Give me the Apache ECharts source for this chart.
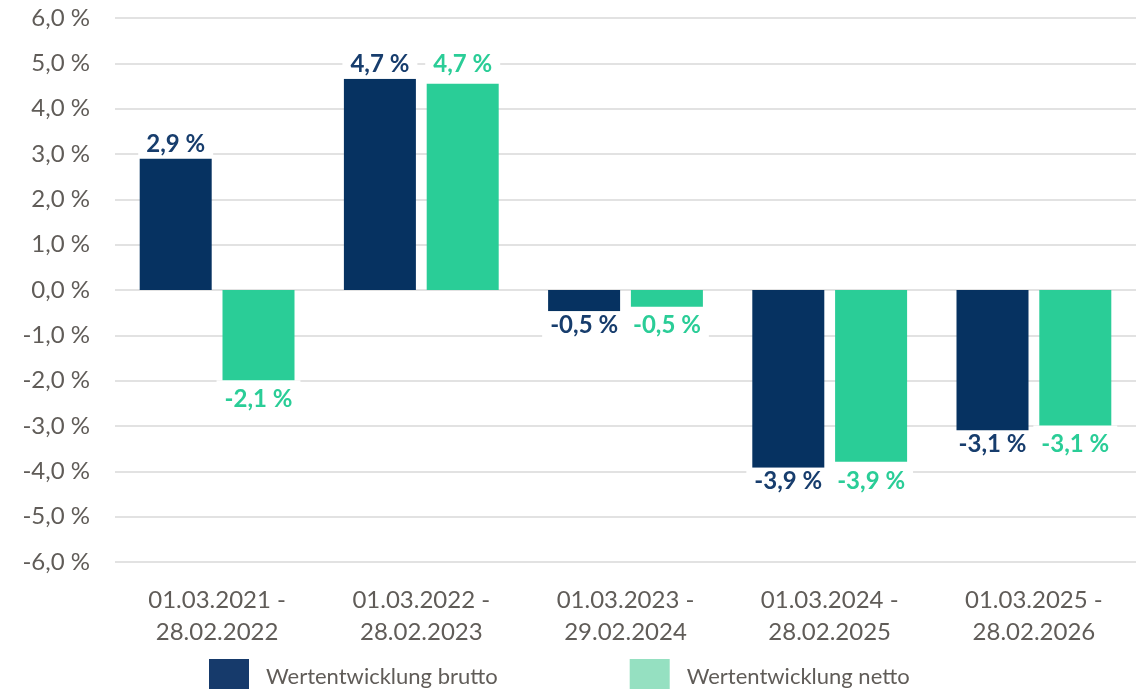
<!DOCTYPE html>
<html lang="de" style="height: 100%">
<head>
  <meta charset="utf-8">
</head>
<body style="height: 100%; margin: 0; background: #fff">
  <div id="container" style="width: 1146px; height: 689px"></div>

  <script type="text/javascript" src="https://cdn.jsdelivr.net/npm/echarts@6/dist/echarts.min.js"></script>

  <script type="text/javascript">
    // Daten
    var categories = [
      '01.03.2021 -\n28.02.2022',
      '01.03.2022 -\n28.02.2023',
      '01.03.2023 -\n29.02.2024',
      '01.03.2024 -\n28.02.2025',
      '01.03.2025 -\n28.02.2026'
    ];
    var brutto = [2.9, 4.66, -0.47, -3.92, -3.1];
    var netto = [-2.1, 4.66, -0.48, -3.9, -3.1];

    var colBrutto = '#063261';
    var colNetto = '#2acd97';
    var gray = '#605c58';
    var font = 'Lato';

    function pct(v) {
      return v.toFixed(1).replace('.', ',') + ' %';
    }

    // Label je Balken: positive oben, negative unten, weisser Kasten
    function items(values, overlap) {
      return values.map(function (v) {
        var inner = overlap ? 9 : 4;
        return {
          value: v,
          label: {
            position: v >= 0 ? 'top' : 'bottom',
            distance: overlap ? -5 : 0,
            padding: v >= 0 ? [2, 8, inner, 8] : [inner, 8, 2, 8]
          }
        };
      });
    }

    var dom = document.getElementById('container');
    var myChart = echarts.init(dom, null, { renderer: 'canvas' });

    var labelBase = {
      show: true,
      formatter: function (p) { return pct(p.value); },
      fontFamily: font,
      fontWeight: 'bold',
      fontSize: 24,
      lineHeight: 20,
      backgroundColor: '#fff'
    };

    var option = {
      animation: false,
      backgroundColor: '#fff',
      grid: { left: 115, right: 10, top: 18, bottom: 127 },
      legend: {
        left: 204,
        top: 654,
        icon: 'rect',
        itemWidth: 40,
        itemHeight: 36,
        itemGap: 132,
        textStyle: { color: gray, fontFamily: font, fontSize: 22, padding: [0, 0, 0, 12] },
        data: [
          { name: 'Wertentwicklung brutto', itemStyle: { color: '#163a6b' } },
          { name: 'Wertentwicklung netto', itemStyle: { color: '#95e0c1' } }
        ]
      },
      xAxis: {
        type: 'category',
        data: categories,
        axisLine: { show: false, onZero: false },
        axisTick: { show: false },
        axisLabel: {
          color: gray,
          fontFamily: font,
          fontSize: 24,
          lineHeight: 32,
          margin: 22
        }
      },
      yAxis: {
        type: 'value',
        min: -6,
        max: 6,
        interval: 1,
        axisLine: { show: false },
        axisTick: { show: false },
        splitLine: { lineStyle: { color: '#d9d9d9', width: 1.5 } },
        axisLabel: {
          color: gray,
          fontFamily: font,
          fontSize: 24,
          margin: 25,
          formatter: pct
        }
      },
      series: [
        {
          name: 'Wertentwicklung brutto',
          type: 'bar',
          barWidth: 72,
          barGap: '15%',
          itemStyle: { color: colBrutto },
          label: Object.assign({}, labelBase, { color: '#173d6d' }),
          data: items(brutto, false)
        },
        {
          name: 'Wertentwicklung netto',
          type: 'bar',
          barWidth: 72,
          barGap: '15%',
          itemStyle: { color: colNetto },
          label: Object.assign({}, labelBase, { color: colNetto }),
          data: items(netto, true)
        }
      ]
    };

    myChart.setOption(option);
    window.addEventListener('resize', myChart.resize);
  </script>
</body>
</html>
